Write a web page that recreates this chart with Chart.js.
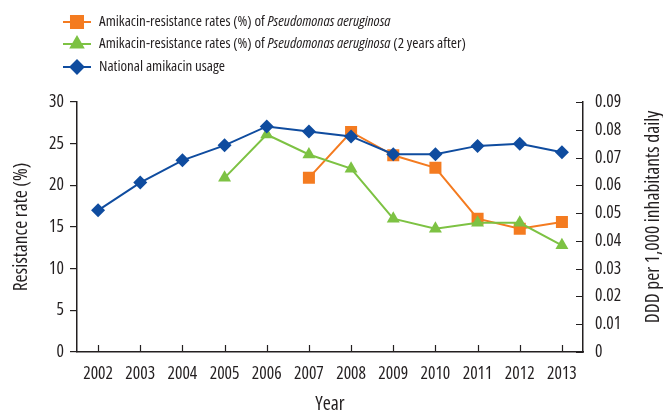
<!DOCTYPE html>
<html>
<head>
<meta charset="utf-8">
<script src="https://cdn.jsdelivr.net/npm/chart.js@4/dist/chart.umd.min.js"></script>
<style>
  html, body { margin: 0; padding: 0; background: #fff; }
  #wrap { width: 663px; height: 412px; position: relative; }
</style>
</head>
<body>
<div id="wrap"><canvas id="chart_amikacin"></canvas></div>
<script>
// values
var years = ['2002', '2003', '2004', '2005', '2006', '2007', '2008', '2009', '2010', '2011', '2012', '2013'];
var resistanceRates = [null, null, null, null, null, 20.9, 26.4, 23.6, 22.1, 16.0, 14.8, 15.6];
var resistanceRates2yAfter = [null, null, null, 20.9, 26.1, 23.7, 22.0, 16.0, 14.8, 15.5, 15.5, 12.8];
var amikacinUsage = [0.051, 0.061, 0.069, 0.0744, 0.0812, 0.0794, 0.0776, 0.0712, 0.0712, 0.0742, 0.075, 0.0719];

var seriesNames = [
    [['Amikacin-resistance rates (%) of ', false], ['Pseudomonas aeruginosa', true]],
    [['Amikacin-resistance rates (%) of ', false], ['Pseudomonas aeruginosa', true], [' (2 years after)', false]],
    [['National amikacin usage', false]]
];
var rightAxisTitle = 'DDD per 1,000 inhabitants daily';

var ORANGE = '#f47b20';
var GREEN = '#7dc243';
var BLUE = '#0f4c9f';
var INK = '#231f20';
var FONT = "'Open Sans', sans-serif";
var STRETCH = '500 condensed'; // goes in the weight slot of the canvas font string

Chart.defaults.font.family = FONT;
Chart.defaults.font.size = 17;
Chart.defaults.font.weight = STRETCH;
Chart.defaults.color = INK;

var legendPlugin = {
    id: 'figureLegend',
    afterDraw: function(chart) {
        var ctx = chart.ctx;
        var rows = [
            { color: ORANGE, style: 'rect', radius: 8.5, y: 22 },
            { color: GREEN, style: 'triangle', radius: 7, y: 44 },
            { color: BLUE, style: 'rectRot', radius: 6.5, y: 67 }
        ];
        ctx.save();
        rows.forEach(function(row, i) {
            ctx.strokeStyle = row.color;
            ctx.fillStyle = row.color;
            ctx.lineWidth = 2;
            ctx.beginPath();
            ctx.moveTo(63, row.y);
            ctx.lineTo(91, row.y);
            ctx.stroke();
            Chart.helpers.drawPoint(ctx, { pointStyle: row.style, radius: row.radius, rotation: 0, borderWidth: 1 }, 77, row.y);
            var x = 99;
            ctx.fillStyle = INK;
            ctx.textBaseline = 'middle';
            ctx.textAlign = 'left';
            seriesNames[i].forEach(function(part) {
                ctx.font = (part[1] ? 'italic ' : '') + STRETCH + ' 15px ' + FONT;
                ctx.fillText(part[0], x, row.y);
                x += ctx.measureText(part[0]).width;
            });
        });

        // right axis title reads bottom-to-top in the figure
        ctx.font = STRETCH + ' 19.5px ' + FONT;
        ctx.translate(653, 217);
        ctx.rotate(-Math.PI / 2);
        ctx.textAlign = 'center';
        ctx.textBaseline = 'middle';
        ctx.fillStyle = INK;
        ctx.fillText(rightAxisTitle, 0, 0);
        ctx.restore();
    }
};

// the x axis and right axis have their tick marks pointing into the plot
var innerTicksPlugin = {
    id: 'innerTicks',
    beforeDatasetsDraw: function(chart) {
        var ctx = chart.ctx;
        var xs = chart.scales.x;
        var ys = chart.scales.y1;
        var area = chart.chartArea;
        ctx.save();
        ctx.strokeStyle = INK;
        ctx.lineWidth = 1.2;
        ctx.beginPath();
        xs.ticks.forEach(function(t, i) {
            var px = Math.round(xs.getPixelForTick(i)) + 0.5;
            ctx.moveTo(px, area.bottom);
            ctx.lineTo(px, area.bottom - 7);
        });
        ys.ticks.forEach(function(t, i) {
            var py = Math.round(ys.getPixelForTick(i)) + 0.5;
            ctx.moveTo(area.right, py);
            ctx.lineTo(area.right - 7, py);
        });
        ctx.stroke();
        ctx.restore();
    }
};

var chart_amikacin = new Chart(document.getElementById('chart_amikacin'), {
    type: 'line',
    data: {
        labels: years,
        datasets: [
            {
                label: 'Amikacin-resistance rates (%) of Pseudomonas aeruginosa',
                data: resistanceRates,
                yAxisID: 'y',
                borderColor: ORANGE,
                backgroundColor: ORANGE,
                borderWidth: 2,
                pointStyle: 'rect',
                pointRadius: 8.5,
                pointBorderWidth: 0,
                order: 2
            },
            {
                label: 'Amikacin-resistance rates (%) of Pseudomonas aeruginosa (2 years after)',
                data: resistanceRates2yAfter,
                yAxisID: 'y',
                borderColor: GREEN,
                backgroundColor: GREEN,
                borderWidth: 2,
                pointStyle: 'triangle',
                pointRadius: 7.5,
                pointBorderWidth: 0,
                order: 1
            },
            {
                label: 'National amikacin usage',
                data: amikacinUsage,
                yAxisID: 'y1',
                borderColor: BLUE,
                backgroundColor: BLUE,
                borderWidth: 2,
                pointStyle: 'rectRot',
                pointRadius: 7,
                pointBorderWidth: 0,
                order: 0
            }
        ]
    },
    options: {
        animation: false,
        responsive: true,
        maintainAspectRatio: false,
        layout: {
            padding: { top: 102, left: 0, right: 0, bottom: 0 }
        },
        plugins: {
            legend: { display: false },
            tooltip: { enabled: false }
        },
        scales: {
            x: {
                offset: true,
                grid: { display: false, drawTicks: false },
                border: { display: true, color: INK, width: 1.5 },
                ticks: { padding: 12, maxRotation: 0, autoSkip: false, color: INK, font: { size: 17.5 } },
                title: {
                    display: true,
                    text: 'Year',
                    font: { size: 19.5, lineHeight: 0.8 },
                    padding: { top: 0, bottom: 0 }
                },
                afterFit: function(scale) { scale.height = 60; }
            },
            y: {
                position: 'left',
                min: 0,
                max: 30,
                grid: { drawOnChartArea: false, drawTicks: true, tickLength: 7, color: INK, lineWidth: 1.2 },
                border: { display: true, color: INK, width: 1.5 },
                ticks: { stepSize: 5, padding: 6, color: INK, font: { size: 17.5 } },
                title: {
                    display: true,
                    text: 'Resistance rate (%)',
                    font: { size: 19.5, lineHeight: 1 },
                    padding: { top: 12, bottom: 0 }
                },
                afterFit: function(scale) { scale.width = 77; }
            },
            y1: {
                position: 'right',
                min: 0,
                max: 0.09,
                grid: { display: false, drawTicks: false },
                border: { display: true, color: INK, width: 1.5 },
                ticks: {
                    stepSize: 0.01,
                    padding: 12,
                    color: INK,
                    font: { size: 17.5 },
                    callback: function(value) { return value === 0 ? '0' : value.toFixed(2); }
                },
                title: { display: false },
                afterFit: function(scale) { scale.width = 80; }
            }
        }
    },
    plugins: [legendPlugin, innerTicksPlugin]
});
</script>
</body>
</html>
